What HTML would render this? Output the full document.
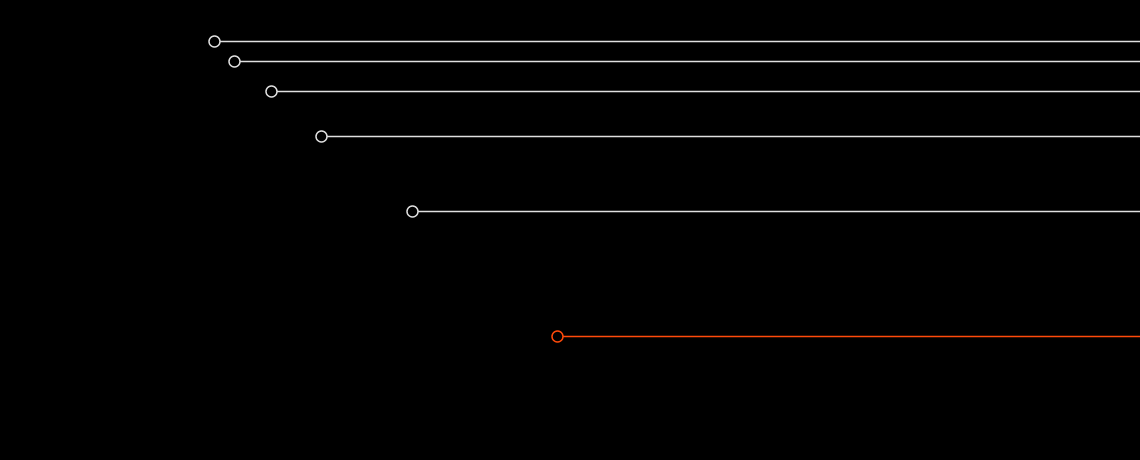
<!DOCTYPE html>
<html><head><style>html,body{margin:0;padding:0;background:#000;width:1140px;height:460px;overflow:hidden}</style></head>
<body>
<svg width="1140" height="460" xmlns="http://www.w3.org/2000/svg">
<rect width="1140" height="460" fill="#000"/>
<g stroke="#e0e0e0" stroke-width="1.5" fill="none">
<line x1="220" y1="41.5" x2="1140" y2="41.5"/><circle cx="214.5" cy="41.5" r="5.5"/>
<line x1="240" y1="61.5" x2="1140" y2="61.5"/><circle cx="234.5" cy="61.5" r="5.5"/>
<line x1="277" y1="91.5" x2="1140" y2="91.5"/><circle cx="271.5" cy="91.5" r="5.5"/>
<line x1="327" y1="136.5" x2="1140" y2="136.5"/><circle cx="321.5" cy="136.5" r="5.5"/>
<line x1="418" y1="211.5" x2="1140" y2="211.5"/><circle cx="412.5" cy="211.5" r="5.5"/>
</g>
<g stroke="#ff4a0a" stroke-width="1.5" fill="none">
<line x1="563" y1="336.5" x2="1140" y2="336.5"/><circle cx="557.5" cy="336.5" r="5.5"/>
</g>
</svg>
</body></html>
